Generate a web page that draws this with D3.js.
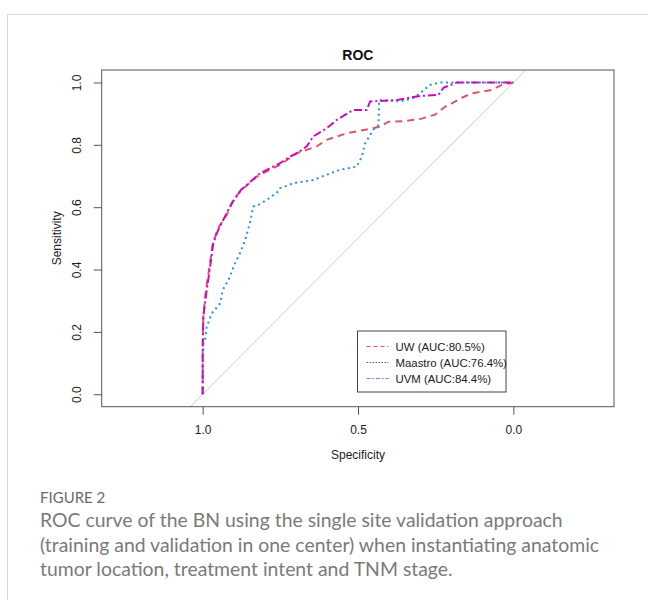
<!DOCTYPE html>
<html>
<head>
<meta charset="utf-8">
<script src="https://cdn.jsdelivr.net/npm/d3@7"></script>
<style>
  body { margin: 0; background: #fff; }
  svg text { font-family: "Liberation Sans", Arial, sans-serif; }
</style>
</head>
<body>
<div id="chart"></div>
<script>
var width = 648;
var height = 600;

// ROC points: [specificity, sensitivity]
var uwPoints = [
  [1, 0], [1, 0.14], [0.998, 0.25], [0.99, 0.33], [0.978, 0.41], [0.968, 0.48], [0.952, 0.53],
  [0.923, 0.575], [0.9, 0.625], [0.88, 0.65], [0.826, 0.698], [0.751, 0.736],
  [0.697, 0.773], [0.633, 0.795], [0.601, 0.816], [0.536, 0.837], [0.467, 0.85],
  [0.43, 0.858], [0.402, 0.874], [0.349, 0.876], [0.295, 0.884], [0.252, 0.897],
  [0.22, 0.922], [0.198, 0.933], [0.166, 0.951], [0.134, 0.965], [0.07, 0.976],
  [0.037, 0.992], [0, 1]
];
var maastroPoints = [
  [1, 0], [1, 0.02], [0.998, 0.163], [0.992, 0.175], [0.987, 0.216], [0.971, 0.259],
  [0.944, 0.291], [0.935, 0.335], [0.917, 0.366], [0.896, 0.42], [0.88, 0.452],
  [0.863, 0.495], [0.847, 0.553], [0.837, 0.602], [0.821, 0.607], [0.794, 0.623],
  [0.757, 0.65], [0.751, 0.661], [0.708, 0.677], [0.644, 0.687], [0.601, 0.704],
  [0.558, 0.72], [0.504, 0.73], [0.488, 0.762], [0.477, 0.805], [0.451, 0.848],
  [0.434, 0.864], [0.432, 0.944], [0.365, 0.939], [0.322, 0.95], [0.3, 0.966],
  [0.268, 0.992], [0.236, 1], [0, 1]
];
var uvmPoints = [
  [1, 0], [1, 0.14], [0.998, 0.248], [0.987, 0.334], [0.976, 0.409], [0.966, 0.484],
  [0.95, 0.527], [0.923, 0.58], [0.906, 0.613], [0.877, 0.655], [0.858, 0.671],
  [0.815, 0.709], [0.783, 0.725], [0.751, 0.741], [0.719, 0.762], [0.697, 0.773],
  [0.665, 0.795], [0.644, 0.827], [0.601, 0.853], [0.568, 0.88], [0.515, 0.912],
  [0.472, 0.912], [0.461, 0.939], [0.375, 0.944], [0.3, 0.957], [0.241, 0.96],
  [0.225, 0.983], [0.182, 1], [0, 1]
];

var seriesNames = ["UW (AUC:80.5%)", "Maastro (AUC:76.4%)", "UVM (AUC:84.4%)"];
var xTicks = [1.0, 0.5, 0.0];
var yTicks = [0.0, 0.2, 0.4, 0.6, 0.8, 1.0];

var captionLines = [
  "ROC curve of the BN using the single site validation approach",
  "(training and validation in one center) when instantiating anatomic",
  "tumor location, treatment intent and TNM stage."
];

var series = [
  { name: seriesNames[0], data: uwPoints, color: "#DF536B", legendColor: "#e0505e", dash: "7,5" },
  { name: seriesNames[1], data: maastroPoints, color: "#2297E6", legendColor: "#5050d8", dash: "2,3.5" },
  { name: seriesNames[2], data: uvmPoints, color: "#CD0BBC", legendColor: "#bb60e8", dash: "8,3,2,3" }
];

var svg = d3.select("#chart").append("svg")
    .attr("width", width)
    .attr("height", height);

// card border
svg.append("rect")
    .attr("x", 7.5)
    .attr("y", 14.5)
    .attr("width", 700)
    .attr("height", 700)
    .attr("fill", "none")
    .attr("stroke", "#d9d9d9")
    .attr("stroke-width", 1);

var box = { left: 101.7, right: 614, top: 70, bottom: 406.7 };

var x = d3.scaleLinear()
    .domain([1.325, -0.324])
    .range([box.left, box.right]);

var y = d3.scaleLinear()
    .domain([-0.04, 1.04])
    .range([box.bottom, box.top]);

svg.append("defs").append("clipPath")
    .attr("id", "clip")
    .append("rect")
    .attr("x", box.left)
    .attr("y", box.top)
    .attr("width", box.right - box.left)
    .attr("height", box.bottom - box.top);

// diagonal reference line
svg.append("line")
    .attr("clip-path", "url(#clip)")
    .attr("x1", x(1.2))
    .attr("y1", y(-0.2))
    .attr("x2", x(-0.2))
    .attr("y2", y(1.2))
    .attr("stroke", "#cccccc")
    .attr("stroke-width", 1);

var line = d3.line()
    .x(function (d) { return x(d[0]); })
    .y(function (d) { return y(d[1]); });

svg.selectAll("path.curve")
    .data(series)
    .enter()
    .append("path")
    .attr("class", "curve")
    .attr("clip-path", "url(#clip)")
    .attr("d", function (d) { return line(d.data); })
    .attr("fill", "none")
    .attr("stroke", function (d) { return d.color; })
    .attr("stroke-width", 2)
    .attr("stroke-dasharray", function (d) { return d.dash; });

// plot box
svg.append("rect")
    .attr("x", box.left)
    .attr("y", box.top)
    .attr("width", box.right - box.left)
    .attr("height", box.bottom - box.top)
    .attr("fill", "none")
    .attr("stroke", "#555")
    .attr("stroke-width", 1);

// axes
var xAxis = d3.axisBottom(x)
    .tickValues(xTicks)
    .tickSize(8)
    .tickPadding(11)
    .tickFormat(d3.format(".1f"));

var gx = svg.append("g")
    .attr("transform", "translate(0," + box.bottom + ")")
    .call(xAxis);
gx.select(".domain").remove();
gx.selectAll("line").attr("stroke", "#555");
gx.selectAll("text")
    .attr("fill", "#222")
    .style("font-size", "12px")
    .style("font-family", "Liberation Sans, Arial, sans-serif");

var yAxis = d3.axisLeft(y)
    .tickValues(yTicks)
    .tickSize(8)
    .tickFormat(d3.format(".1f"));

var gy = svg.append("g")
    .attr("transform", "translate(" + box.left + ",0)")
    .call(yAxis);
gy.select(".domain").remove();
gy.selectAll("line").attr("stroke", "#555");
gy.selectAll("text")
    .attr("fill", "#222")
    .attr("x", null)
    .attr("dy", null)
    .attr("text-anchor", "middle")
    .attr("transform", "translate(-21,0) rotate(-90)")
    .attr("y", 0)
    .style("font-size", "12px")
    .style("font-family", "Liberation Sans, Arial, sans-serif");

// titles
svg.append("text")
    .attr("x", (box.left + box.right) / 2)
    .attr("y", 60)
    .attr("text-anchor", "middle")
    .style("font-size", "14px")
    .style("font-weight", "bold")
    .attr("fill", "#111")
    .text("ROC");

svg.append("text")
    .attr("x", x(0.5))
    .attr("y", 459)
    .attr("text-anchor", "middle")
    .style("font-size", "12px")
    .attr("fill", "#222")
    .text("Specificity");

svg.append("text")
    .attr("transform", "translate(61," + y(0.5) + ") rotate(-90)")
    .attr("text-anchor", "middle")
    .style("font-size", "12px")
    .attr("fill", "#222")
    .text("Sensitivity");

// legend
var legend = svg.append("g")
    .attr("transform", "translate(357.5,331)");

legend.append("rect")
    .attr("width", 148.5)
    .attr("height", 61)
    .attr("fill", "#fff")
    .attr("stroke", "#444")
    .attr("stroke-width", 1);

var items = legend.selectAll("g.item")
    .data(series)
    .enter()
    .append("g")
    .attr("class", "item")
    .attr("transform", function (d, i) { return "translate(0," + (15.5 + i * 16) + ")"; });

items.append("line")
    .attr("x1", 9)
    .attr("x2", 31)
    .attr("stroke", function (d) { return d.legendColor; })
    .attr("stroke-width", 1)
    .attr("stroke-dasharray", function (d, i) { return ["4,3", "1.5,1.5", "4,2,1.5,2"][i]; });

items.append("text")
    .attr("x", 38)
    .attr("y", 4)
    .style("font-size", "11.4px")
    .attr("fill", "#222")
    .text(function (d) { return d.name; });

// caption
svg.append("text")
    .attr("x", 40)
    .attr("y", 503)
    .style("font-family", "Lato, 'Open Sans', sans-serif")
    .style("font-size", "15px")
    .attr("fill", "#6a6a6a")
    .text("FIGURE 2");

svg.selectAll("text.caption")
    .data(captionLines)
    .enter()
    .append("text")
    .attr("class", "caption")
    .attr("x", 40)
    .attr("y", function (d, i) { return 527 + i * 24.5; })
    .style("font-family", "Lato, 'Open Sans', sans-serif")
    .style("font-size", "19.4px")
    .attr("fill", "#7a7a7a")
    .text(function (d) { return d; });
</script>
</body>
</html>
